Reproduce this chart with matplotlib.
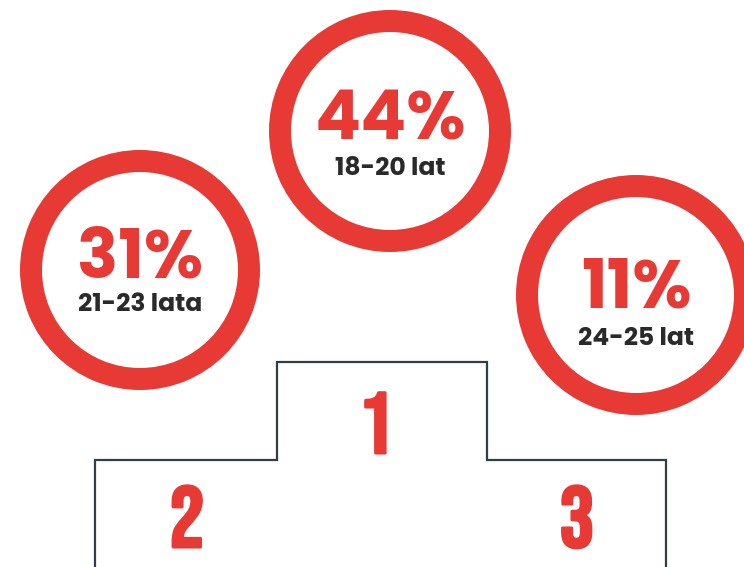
import matplotlib
matplotlib.use("Agg")
import matplotlib.pyplot as plt
import matplotlib.patheffects as pe
from matplotlib.patches import Wedge

# age groups and their share
places = [1, 2, 3]
shares = [44, 31, 11]
age_labels = ["18-20 lat", "21-23 lata", "24-25 lat"]

RED = "#E83A35"
DARK = "#2A2A2A"
LINE = "#2F3F48"

# ring centre (px), outer radius, baseline of big / small text
rings = {
    1: dict(cx=390, cy=131, r=121, big=140, small=175),
    2: dict(cx=140, cy=270, r=120, big=277, small=311),
    3: dict(cx=636, cy=295, r=120, big=307, small=345),
}

fig = plt.figure(figsize=(7.44, 5.67), dpi=100)
ax = fig.add_axes([0, 0, 1, 1])
ax.set_xlim(0, 744)
ax.set_ylim(567, 0)
ax.set_aspect("equal")
ax.axis("off")

for place, share, label in zip(places, shares, age_labels):
    g = rings[place]
    ax.add_patch(Wedge((g["cx"], g["cy"]), g["r"], 0, 360, width=22,
                       facecolor=RED, edgecolor="none"))
    ax.text(g["cx"], g["big"], f"{share}%", fontsize=49, fontweight="bold",
            family=["Poppins", "DejaVu Sans"], color=RED, ha="center", va="baseline")
    ax.text(g["cx"], g["small"], label, fontsize=18, fontweight="bold",
            family=["Poppins", "DejaVu Sans"], color=DARK, ha="center", va="baseline")

# podium outline
px = [95, 95, 277, 277, 487, 487, 666, 666]
py = [570, 460, 460, 362, 362, 460, 460, 570]
ax.plot(px, py, color=LINE, lw=1.6, solid_joinstyle="miter")

# place numbers, thickened a little with a stroke
podium_pos = {1: (376, 453), 2: (187, 547), 3: (577, 547)}
for place in places:
    x, y = podium_pos[place]
    ax.text(x, y, str(place), fontsize=62,
            family=["Bebas Neue", "DejaVu Sans"], color=RED,
            ha="center", va="baseline",
            path_effects=[pe.withStroke(linewidth=2.2, foreground=RED)])

fig.savefig("out.png", dpi=100, facecolor="white")
